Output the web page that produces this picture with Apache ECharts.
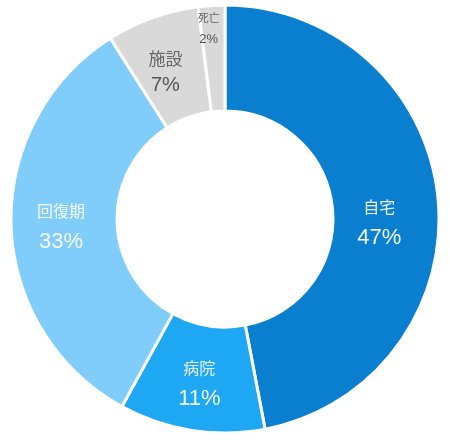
<!DOCTYPE html>
<html>
<head>
<meta charset="utf-8">
<script src="https://cdn.jsdelivr.net/npm/echarts@6/dist/echarts.min.js"></script>
<style>
  html, body { margin: 0; padding: 0; background: #fff; }
  #chart { width: 450px; height: 447px; }
</style>
</head>
<body>
<div id="chart"></div>
<script>
// 退院先の内訳
var categories = ['自宅', '病院', '回復期', '施設', '死亡'];
var values = [47, 11, 33, 7, 2];
var colors = ['#0a7fcf', '#1ea7f2', '#80cdfb', '#d9d9d9', '#d9d9d9'];

var chart = echarts.init(document.getElementById('chart'));

var font = 'Liberation Sans, Arial, Noto Sans CJK JP, sans-serif';

// label tweaks, hand placed like the original
var labelOffsets = {
  '自宅': [-9, 20],
  '病院': [0, 3],
  '回復期': [0, 3],
  '施設': [-4, 8],
  '死亡': [-6, -26]
};

var data = categories.map(function (name, i) {
  var gray = i >= 3;
  var small = name === '死亡';
  var nSize = small ? 11 : (gray ? 17 : 16);
  var pSize = small ? 13 : (gray ? 20 : 22);
  var lh = small ? 20 : (gray ? 25 : 29);
  return {
    name: name,
    value: values[i],
    itemStyle: { color: colors[i] },
    label: {
      offset: labelOffsets[name],
      rich: {
        n: { fontSize: nSize, lineHeight: lh, color: gray ? '#666' : 'rgba(255,255,255,0.92)', fontFamily: font },
        p: { fontSize: pSize, lineHeight: lh, color: gray ? '#555' : 'rgba(255,255,255,0.95)', fontFamily: font }
      }
    }
  };
});

var option = {
  animation: false,
  series: [
    {
      type: 'pie',
      center: [225, 219],
      radius: [108, 214],
      startAngle: 90,
      clockwise: true,
      itemStyle: {
        borderColor: '#fff',
        borderWidth: 3
      },
      label: {
        show: true,
        position: 'inside',
        formatter: function (p) {
          return '{n|' + p.name + '}\n{p|' + p.value + '%}';
        }
      },
      labelLine: { show: false },
      emphasis: { disabled: true },
      data: data
    }
  ]
};

chart.setOption(option);
</script>
</body>
</html>
